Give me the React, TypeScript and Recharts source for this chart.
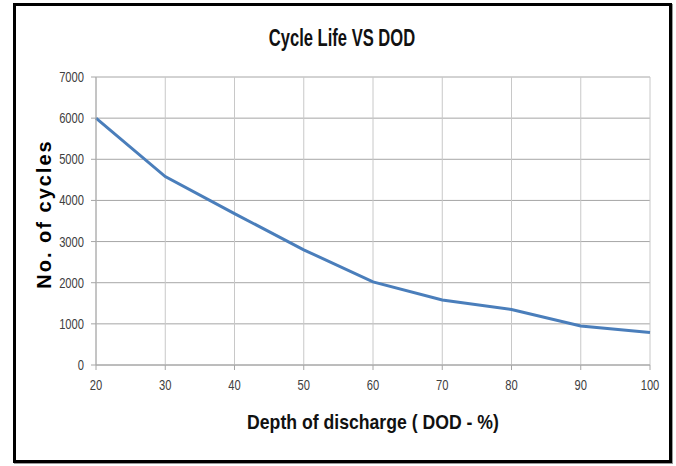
import React from "react";
import { LineChart, Line, XAxis, YAxis, CartesianGrid } from "recharts";

const dod = [20, 30, 40, 50, 60, 70, 80, 90, 100];
const cycles = [6000, 4580, 3680, 2800, 2020, 1580, 1350, 950, 790];
const yTicks = [0, 1000, 2000, 3000, 4000, 5000, 6000, 7000];

const data = dod.map((d, i) => ({ dod: d, cycles: cycles[i] }));

const sans = "'Liberation Sans', Arial, sans-serif";

// narrow-looking tick text (the original uses a condensed face)
function NarrowTick(props: any) {
  const { x, y, payload, textAnchor, axis } = props;
  const dy = axis === "x" ? 10 : 5;
  return (
    <g transform={`translate(${x},${y}) scale(0.8,1)`}>
      <text x={0} y={0} dy={dy} textAnchor={textAnchor} fill="#404040" fontSize={14} fontFamily={sans}>
        {payload.value}
      </text>
    </g>
  );
}

export default function App() {
  return (
    <div style={{ position: "absolute", left: 0, top: 0, width: 676, height: 466, background: "#fff" }}>
      <div
        style={{
          position: "absolute",
          left: 13,
          top: 3,
          width: 653,
          height: 454,
          border: "3px solid #000",
          boxShadow: "1px 1px 0 #9a9a9a",
        }}
      />
      <LineChart
        width={676}
        height={466}
        data={data}
        margin={{ top: 77, right: 26, bottom: 71, left: 56 }}
        style={{ position: "absolute", left: 0, top: 0 }}
      >
        <CartesianGrid horizontal={true} vertical={false} stroke="#a6a6a6" />
        <CartesianGrid horizontal={false} vertical={true} stroke="#c8c8c8" />
        <XAxis
          dataKey="dod"
          type="number"
          domain={[20, 100]}
          ticks={dod}
          height={30}
          stroke="#a6a6a6"
          tickSize={5}
          tickMargin={10}
          tick={<NarrowTick axis="x" />}
        />
        <YAxis
          type="number"
          domain={[0, 7000]}
          ticks={yTicks}
          width={40}
          stroke="#a6a6a6"
          tickSize={5}
          tickMargin={7}
          tick={<NarrowTick axis="y" />}
        />
        <Line
          type="linear"
          dataKey="cycles"
          stroke="#4a7ebb"
          strokeWidth={3}
          dot={false}
          isAnimationActive={false}
        />
      </LineChart>
      <div
        style={{
          position: "absolute",
          left: 0,
          width: 684,
          top: 24,
          textAlign: "center",
          fontFamily: sans,
          fontWeight: "bold",
          fontSize: 23,
          lineHeight: "28px",
          color: "#111",
          transform: "scaleX(0.72)",
        }}
      >
        Cycle Life VS DOD
      </div>
      <div
        style={{
          position: "absolute",
          left: 96,
          width: 554,
          top: 408,
          textAlign: "center",
          fontFamily: sans,
          fontWeight: "bold",
          fontSize: 21,
          lineHeight: "28px",
          color: "#111",
          transform: "scaleX(0.84)",
        }}
      >
        Depth of discharge ( DOD - %)
      </div>
      <div
        style={{
          position: "absolute",
          left: 44 - 100,
          top: 214 - 12,
          width: 200,
          height: 24,
          lineHeight: "24px",
          textAlign: "center",
          transform: "rotate(-90deg)",
          fontFamily: sans,
          fontWeight: "bold",
          fontSize: 20,
          letterSpacing: 2,
          color: "#000",
        }}
      >
        No. of cycles
      </div>
    </div>
  );
}
